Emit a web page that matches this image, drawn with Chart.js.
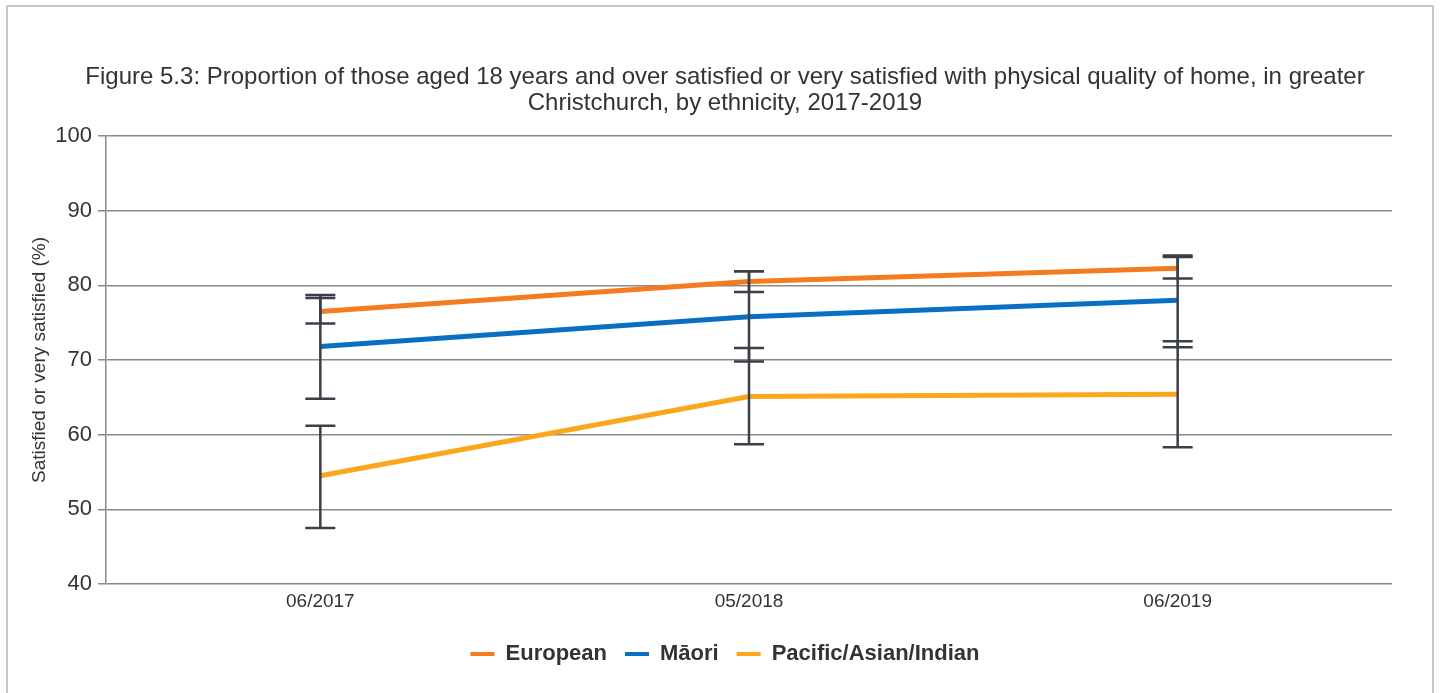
<!DOCTYPE html>
<html lang="en">
<head>
<meta charset="utf-8">
<title>Figure 5.3</title>
<script src="https://cdn.jsdelivr.net/npm/chart.js@4.4.0/dist/chart.umd.min.js"></script>
<style>
  html, body { margin: 0; padding: 0; background: #fff; overflow: hidden; }
  #frame {
    position: absolute; left: 6px; top: 5px; width: 1428px; height: 720px;
    border: 2px solid #c8c8c8; box-sizing: border-box;
  }
  #wrap { position: absolute; left: 0; top: 0; width: 1442px; height: 693px; }
</style>
</head>
<body>
<div id="frame"></div>
<div id="wrap"><canvas id="myChart"></canvas></div>
<script>
  // survey periods
  const categories = ["06/2017", "05/2018", "06/2019"];

  // % satisfied, with 95% confidence interval ends
  const european = [76.5, 80.5, 82.3];
  const europeanLow = [74.9, 79.1, 80.9];
  const europeanHigh = [78.3, 81.9, 83.8];

  const maori = [71.8, 75.8, 78.0];
  const maoriLow = [64.8, 69.8, 71.7];
  const maoriHigh = [78.7, 81.9, 84.0];

  const pacific = [54.5, 65.1, 65.4];
  const pacificLow = [47.5, 58.7, 58.3];
  const pacificHigh = [61.2, 71.6, 72.5];

  const yTicks = [40, 50, 60, 70, 80, 90, 100];

  const font = "'Liberation Sans', Arial, sans-serif";

  // draws the confidence interval whiskers on top of the lines
  const errorBars = {
    id: "errorBars",
    afterDatasetsDraw(chart) {
      const ctx = chart.ctx;
      const x = chart.scales.x, y = chart.scales.y;
      ctx.save();
      ctx.strokeStyle = "#3b3f49";
      ctx.lineWidth = 2.5;
      chart.data.datasets.forEach(function (ds) {
        ds.low.forEach(function (lo, i) {
          const px = x.getPixelForValue(i);
          const top = y.getPixelForValue(ds.high[i]);
          const bot = y.getPixelForValue(lo);
          ctx.beginPath();
          ctx.moveTo(px, top); ctx.lineTo(px, bot);
          ctx.moveTo(px - 15, top); ctx.lineTo(px + 15, top);
          ctx.moveTo(px - 15, bot); ctx.lineTo(px + 15, bot);
          ctx.stroke();
        });
      });
      ctx.restore();
    }
  };

  const ctx = document.getElementById("myChart").getContext("2d");
  const chart = new Chart(ctx, {
    type: "line",
    data: {
      labels: categories,
      datasets: [
        { label: "European", data: european, low: europeanLow, high: europeanHigh,
          borderColor: "#f47b20", backgroundColor: "#f47b20" },
        { label: "M\u0101ori", data: maori, low: maoriLow, high: maoriHigh,
          borderColor: "#0a6fc2", backgroundColor: "#0a6fc2" },
        { label: "Pacific/Asian/Indian", data: pacific, low: pacificLow, high: pacificHigh,
          borderColor: "#fca61c", backgroundColor: "#fca61c" }
      ]
    },
    options: {
      responsive: true,
      maintainAspectRatio: false,
      animation: false,
      layout: { padding: { top: 64, left: 8, right: 0, bottom: 18 } },
      elements: {
        line: { borderWidth: 5, tension: 0 },
        point: { radius: 0, hoverRadius: 0 }
      },
      plugins: {
        tooltip: { enabled: false },
        title: {
          display: true,
          text: [
            "Figure 5.3: Proportion of those aged 18 years and over satisfied or very satisfied with physical quality of home, in greater",
            "Christchurch, by ethnicity, 2017-2019"
          ],
          color: "#333",
          font: { family: font, size: 24, weight: "normal", lineHeight: 1.083 },
          padding: { top: 0, bottom: 20 }
        },
        legend: {
          position: "bottom",
          labels: {
            color: "#333",
            font: { family: font, size: 22, weight: "bold" },
            boxWidth: 24,
            boxHeight: 4,
            padding: 18,
            generateLabels(c) {
              return Chart.defaults.plugins.legend.labels.generateLabels(c).map(function (l) {
                l.lineWidth = 0;
                return l;
              });
            }
          }
        }
      },
      scales: {
        x: {
          offset: true,
          grid: { display: false, drawTicks: false },
          border: { display: false },
          ticks: { color: "#333", font: { family: font, size: 19 }, padding: 6 },
          afterFit(s) { s.height = 41; }
        },
        y: {
          min: 40,
          max: 100,
          afterBuildTicks(s) { s.ticks = yTicks.map(function (v) { return { value: v }; }); },
          afterFit(s) { s.width = 98; },
          grid: { color: "#8a8a8a", lineWidth: 1.5, tickLength: 8 },
          border: { display: true, color: "#8a8a8a", width: 1.5 },
          ticks: { color: "#333", font: { family: font, size: 22 }, padding: 6 },
          title: {
            display: true,
            text: "Satisfied or very satisfied (%)",
            color: "#333",
            font: { family: font, size: 19 },
            padding: { top: 20, bottom: 0 }
          }
        },
        // empty right-hand box, keeps the plot clear of the frame
        y2: {
          type: "linear",
          position: "right",
          grid: { display: false },
          border: { display: false },
          ticks: { display: false },
          afterFit(s) { s.width = 50; }
        }
      }
    },
    plugins: [errorBars]
  });
</script>
</body>
</html>
